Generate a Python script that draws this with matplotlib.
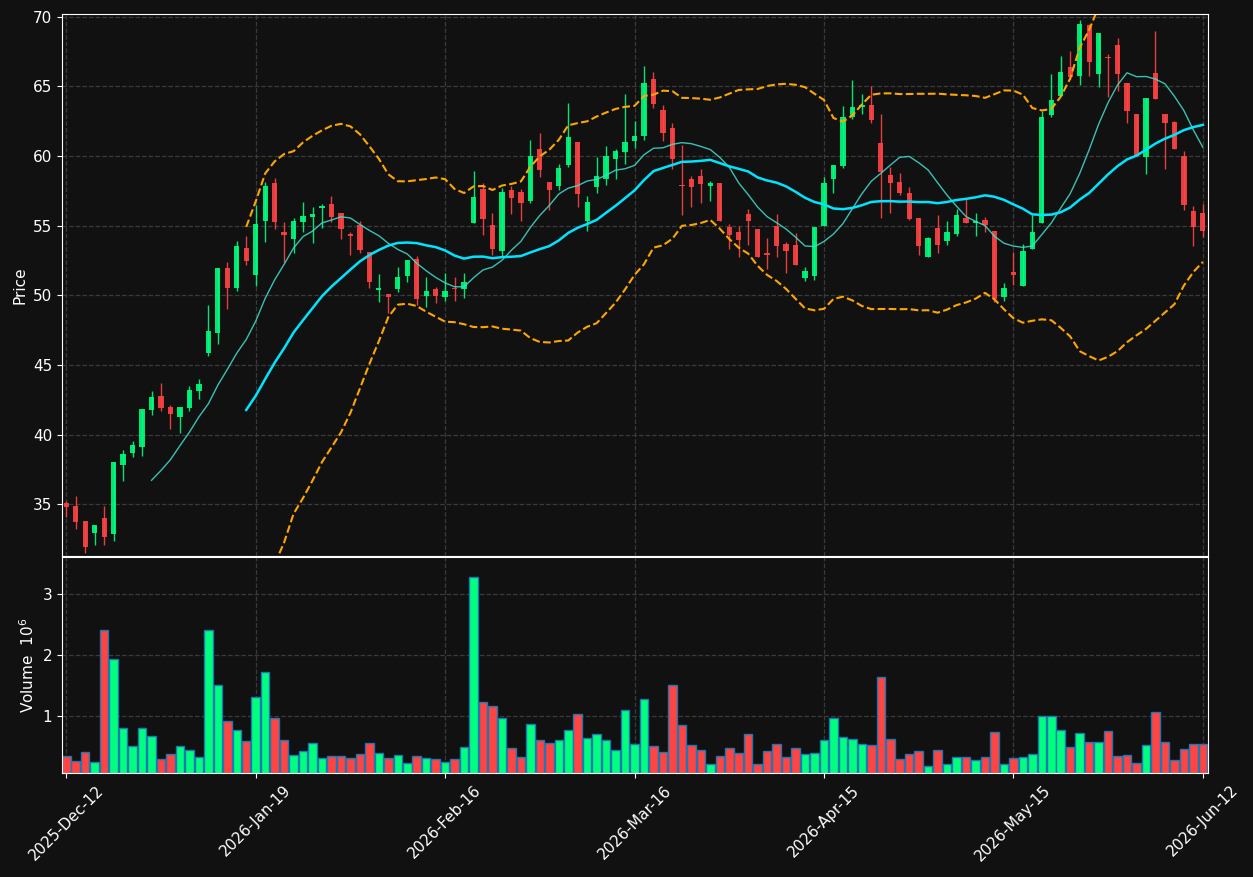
import numpy as np
import pandas as pd
from matplotlib import pyplot as plt

# OHLC, one entry per trading bar (121 bars)
opens = [35.07, 34.88, 33.80, 32.96, 34.01, 32.89, 37.84, 38.70, 39.13, 41.79,
         42.77, 41.98, 41.29, 41.93, 43.15, 45.88, 47.32, 51.96, 50.55, 53.40,
         51.46, 55.36, 58.06, 54.52, 54.07, 55.29, 55.62, 56.27, 56.55, 55.91,
         54.40, 55.05, 53.11, 50.36, 50.09, 50.48, 51.41, 52.61, 49.97, 50.45,
         49.90, 50.52, 50.48, 55.21, 57.61, 55.07, 53.20, 57.53, 57.39, 56.79,
         60.48, 58.11, 57.87, 59.38, 60.98, 55.36, 57.80, 58.37, 59.78, 60.31,
         61.10, 61.43, 65.53, 63.28, 61.98, 57.89, 58.35, 58.56, 57.87, 58.06,
         54.90, 54.54, 55.83, 54.73, 53.04, 54.97, 53.68, 53.61, 51.27, 51.41,
         55.00, 58.37, 59.28, 62.77, 63.54, 63.64, 60.93, 58.61, 58.11, 57.32,
         55.52, 52.72, 54.80, 53.92, 54.42, 55.55, 55.17, 55.40, 54.59, 49.90,
         51.67, 50.70, 53.35, 55.19, 62.97, 64.33, 66.39, 65.77, 69.38, 65.89,
         67.06, 67.97, 65.24, 63.02, 59.95, 65.96, 63.02, 62.44, 60.00, 56.03,
         55.91]
highs = [35.26, 35.57, 33.80, 33.51, 34.85, 38.03, 38.89, 39.54, 41.84, 43.11,
         43.68, 42.13, 41.98, 43.49, 43.99, 49.28, 51.96, 52.37, 53.87, 54.23,
         56.48, 58.11, 58.40, 55.24, 55.53, 56.70, 56.32, 56.55, 57.13, 55.91,
         54.52, 55.36, 53.11, 51.51, 50.09, 52.01, 52.53, 52.80, 51.29, 50.62,
         51.58, 51.29, 51.58, 58.92, 58.04, 55.88, 57.68, 57.82, 57.61, 61.12,
         61.63, 58.16, 59.45, 63.78, 60.98, 57.10, 59.95, 60.69, 60.48, 64.43,
         62.51, 66.46, 66.00, 63.64, 62.34, 60.81, 58.54, 59.04, 58.20, 58.06,
         55.12, 55.00, 56.17, 54.73, 54.09, 55.81, 53.85, 54.50, 52.05, 54.88,
         58.47, 59.33, 63.61, 65.43, 64.43, 65.00, 62.99, 59.20, 58.80, 57.75,
         55.52, 54.21, 55.74, 55.30, 56.22, 56.89, 55.93, 55.64, 54.59, 50.86,
         53.13, 53.68, 55.74, 63.21, 65.90, 67.16, 67.54, 69.76, 69.50, 68.83,
         67.32, 68.45, 65.24, 63.02, 64.16, 68.95, 63.02, 62.54, 60.38, 56.39,
         56.55]
lows = [34.06, 33.20, 31.52, 32.05, 32.05, 32.39, 36.64, 38.42, 38.49, 41.43,
        41.72, 40.38, 40.09, 41.72, 42.58, 45.67, 46.48, 48.99, 50.28, 52.20,
        50.69, 53.80, 54.74, 52.37, 53.01, 54.57, 53.73, 54.81, 55.24, 54.02,
        52.87, 53.01, 50.50, 49.54, 48.70, 50.26, 50.98, 49.33, 49.18, 49.47,
        49.60, 49.60, 49.80, 55.21, 54.30, 52.89, 52.77, 55.86, 55.30, 56.65,
        58.52, 56.10, 57.56, 59.20, 56.36, 54.59, 57.32, 57.89, 58.32, 59.45,
        60.60, 61.15, 63.47, 61.10, 59.04, 55.79, 56.36, 56.65, 56.79, 55.36,
        53.30, 52.72, 53.59, 52.77, 51.91, 52.77, 51.58, 52.20, 51.05, 51.07,
        55.00, 57.32, 59.11, 62.63, 62.99, 62.34, 55.52, 55.88, 57.18, 55.38,
        52.87, 52.72, 53.01, 53.59, 54.23, 55.17, 54.28, 54.52, 49.50, 49.60,
        50.71, 50.70, 53.35, 55.19, 62.82, 64.33, 65.50, 65.10, 65.77, 64.93,
        64.21, 64.69, 62.35, 59.98, 58.68, 64.07, 59.04, 60.48, 56.15, 53.56,
        54.21]
closes = [34.83, 33.75, 31.96, 33.51, 32.67, 38.03, 38.61, 39.25, 41.84, 42.70,
          41.93, 41.50, 41.98, 43.20, 43.63, 47.44, 51.96, 50.55, 53.54, 52.49,
          55.12, 57.85, 55.29, 54.35, 55.33, 55.69, 55.84, 56.43, 55.65, 54.78,
          54.26, 53.25, 50.98, 50.55, 49.90, 51.31, 52.53, 49.76, 50.31, 49.97,
          50.33, 50.45, 50.95, 57.08, 55.50, 53.35, 57.39, 57.01, 56.65, 59.97,
          59.02, 57.58, 59.11, 61.34, 57.30, 56.67, 58.54, 59.97, 60.33, 60.98,
          61.41, 65.24, 63.76, 61.67, 59.81, 57.85, 57.80, 58.01, 58.06, 55.36,
          54.35, 53.99, 55.30, 52.77, 52.92, 53.56, 53.20, 52.20, 51.74, 54.88,
          58.04, 59.33, 62.77, 63.49, 63.64, 62.61, 58.83, 58.08, 57.37, 55.50,
          53.56, 54.09, 53.63, 54.52, 55.74, 55.21, 55.36, 55.07, 49.70, 50.50,
          51.48, 53.20, 54.54, 62.78, 64.02, 66.00, 65.69, 69.48, 66.77, 68.83,
          67.01, 65.89, 63.25, 59.98, 64.16, 64.12, 62.35, 60.53, 56.51, 54.88,
          54.64]
# volume in millions
volumes = [0.344, 0.262, 0.410, 0.246, 2.410, 1.934, 0.803, 0.508, 0.803, 0.672,
           0.295, 0.377, 0.508, 0.443, 0.328, 2.410, 1.508, 0.918, 0.770, 0.590,
           1.311, 1.721, 0.967, 0.607, 0.361, 0.426, 0.557, 0.311, 0.344, 0.344,
           0.311, 0.377, 0.557, 0.393, 0.311, 0.361, 0.230, 0.344, 0.311, 0.295,
           0.246, 0.295, 0.492, 3.279, 1.230, 1.164, 0.967, 0.475, 0.328, 0.869,
           0.607, 0.557, 0.607, 0.770, 1.033, 0.639, 0.705, 0.607, 0.443, 1.098,
           0.541, 1.279, 0.508, 0.410, 1.508, 0.852, 0.525, 0.443, 0.213, 0.344,
           0.475, 0.393, 0.705, 0.213, 0.426, 0.541, 0.328, 0.475, 0.377, 0.393,
           0.607, 0.967, 0.656, 0.623, 0.541, 0.525, 1.639, 0.623, 0.295, 0.377,
           0.426, 0.180, 0.443, 0.213, 0.328, 0.328, 0.279, 0.328, 0.738, 0.213,
           0.311, 0.328, 0.377, 1.000, 1.000, 0.770, 0.492, 0.721, 0.574, 0.574,
           0.754, 0.344, 0.361, 0.230, 0.525, 1.066, 0.574, 0.279, 0.459, 0.541,
           0.541]
tick_pos = [0, 20, 40, 60, 80, 100, 120]
tick_labels = ["2025-Dec-12", "2026-Jan-19", "2026-Feb-16", "2026-Mar-16",
               "2026-Apr-15", "2026-May-15", "2026-Jun-12"]

df = pd.DataFrame({"Open": opens, "High": highs, "Low": lows,
                   "Close": closes, "Volume": volumes})
x = np.arange(len(df))
up = df["Close"] >= df["Open"]

# moving averages and bollinger bands
mav10 = df["Close"].rolling(10).mean()
mav20 = df["Close"].rolling(20).mean()
std20 = df["Close"].rolling(20).std(ddof=0)
bb_up = mav20 + 2 * std20
bb_lo = mav20 - 2 * std20

bg = "#111111"
up_col = "#00ff7f"
dn_col = "#ff4444"
colors = np.where(up, up_col, dn_col)

fig = plt.figure(figsize=(12.53, 8.77), dpi=100, facecolor=bg)
ax = fig.add_axes([0.0495, 0.3660, 0.9146, 0.6180])
axv = fig.add_axes([0.0495, 0.1186, 0.9146, 0.2463], sharex=ax)

for a in (ax, axv):
    a.set_facecolor(bg)
    a.grid(True, linestyle="--", color="#3a3a3a", linewidth=0.9)
    a.set_axisbelow(True)
    a.tick_params(colors="white", labelsize=11)
    for s in a.spines.values():
        s.set_color("white")

# candles
ax.vlines(x, df["Low"], df["High"], colors=colors, linewidth=1, alpha=0.9)
body_h = (df["Close"] - df["Open"]).abs().clip(lower=0.06)
body_b = np.minimum(df["Open"], df["Close"])
ax.bar(x, body_h, bottom=body_b, width=0.56, color=colors, alpha=0.9,
       linewidth=0)

ax.plot(x, mav10, color="#40e0d0", linewidth=1, alpha=0.85)
ax.plot(x, mav20, color="#00e5ff", linewidth=1.8)
ax.plot(x, bb_up, color="orange", linestyle="--", linewidth=1.5)
ax.plot(x, bb_lo, color="orange", linestyle="--", linewidth=1.5)

ax.set_ylim(31.28, 70.19)
ax.set_yticks([35, 40, 45, 50, 55, 60, 65, 70])
ax.set_ylabel("Price", color="white", fontsize=11)
ax.tick_params(axis="x", labelbottom=False, length=0)

axv.bar(x, df["Volume"], width=0.9, color=colors, edgecolor="#1f77b4",
        linewidth=1)
axv.set_ylim(0.059, 3.61)
axv.set_yticks([1, 2, 3])
axv.set_ylabel("Volume  $10^{6}$", color="white", fontsize=11)

axv.set_xlim(-0.45, 120.55)
axv.set_xticks(tick_pos)
axv.set_xticklabels(tick_labels, rotation=45, ha="center", rotation_mode="default")

fig.savefig("out.png", dpi=100, facecolor=bg)
